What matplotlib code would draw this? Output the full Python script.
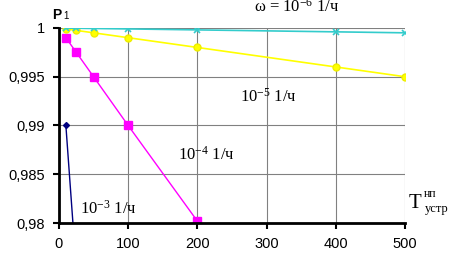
import matplotlib
matplotlib.use("Agg")
import matplotlib.pyplot as plt
from matplotlib.ticker import FixedLocator, FuncFormatter

plt.rcParams["mathtext.fontset"] = "custom"
plt.rcParams["mathtext.rm"] = "Liberation Serif"
plt.rcParams["mathtext.it"] = "Liberation Serif:italic"

# P1 vs T for different failure rates omega
t_6 = [10, 25, 50, 100, 200, 400, 500]
p_6 = [0.99999, 0.999975, 0.99995, 0.9999, 0.9998, 0.9996, 0.9995]
t_5 = [10, 25, 50, 100, 200, 400, 500]
p_5 = [0.9999, 0.99975, 0.9995, 0.999, 0.998, 0.996, 0.995]
t_4 = [10, 25, 50, 100, 200]
p_4 = [0.999, 0.9975, 0.995, 0.99, 0.9802]
t_3 = [10, 25]
p_3 = [0.99, 0.9753]

x_ticks = [0, 100, 200, 300, 400, 500]
y_ticks = [0.98, 0.985, 0.99, 0.995, 1.0]

fig = plt.figure(figsize=(4.57, 2.54), dpi=100)
ax = fig.add_axes([0.129, 0.122, 0.757, 0.768])

ax.plot(t_3, p_3, color="#000080", lw=1, marker="D", ms=3)
ax.plot(t_4, p_4, color="#ff00ff", lw=1, marker="s", ms=6)
ax.plot(t_5, p_5, color="#ffff00", lw=1.2, marker="o", ms=5, mec="#eeee00")
ax.plot(t_6, p_6, color="#33cccc", lw=1.2, marker="x", ms=5, mew=1.2)

ax.set_xlim(0, 500)
ax.set_ylim(0.98, 1.0)
ax.xaxis.set_major_locator(FixedLocator(x_ticks))
ax.yaxis.set_major_locator(FixedLocator(y_ticks))
ax.yaxis.set_major_formatter(FuncFormatter(lambda v, p: ("%g" % v).replace(".", ",")))
ax.grid(True, color="#808080", lw=0.8)
ax.set_axisbelow(True)

for s in ["top", "right"]:
    ax.spines[s].set_visible(False)
for s in ["left", "bottom"]:
    ax.spines[s].set_linewidth(2)
ax.tick_params(direction="out", length=4, width=1.5, labelsize=10.5, pad=6)
for lbl in ax.get_xticklabels() + ax.get_yticklabels():
    lbl.set_family("Liberation Sans")

serif = "Liberation Serif"
fig.text(0.114, 0.925, "P", fontsize=10, fontweight="bold", family="Liberation Sans")
fig.text(0.139, 0.925, "1", fontsize=7, family="Liberation Sans")
fig.text(0.555, 0.955, r"ω = 10$^{-6}$ 1/ч", fontsize=12, family=serif)
fig.text(0.525, 0.6, r"10$^{-5}$ 1/ч", fontsize=12, family=serif)
fig.text(0.39, 0.37, r"10$^{-4}$ 1/ч", fontsize=12, family=serif)
fig.text(0.175, 0.16, r"10$^{-3}$ 1/ч", fontsize=12, family=serif)
fig.text(0.895, 0.18, "T", fontsize=15, family=serif)
fig.text(0.927, 0.225, "нп", fontsize=8.5, family=serif)
fig.text(0.93, 0.165, "устр", fontsize=9, family=serif)

fig.savefig("out.png", dpi=100)
